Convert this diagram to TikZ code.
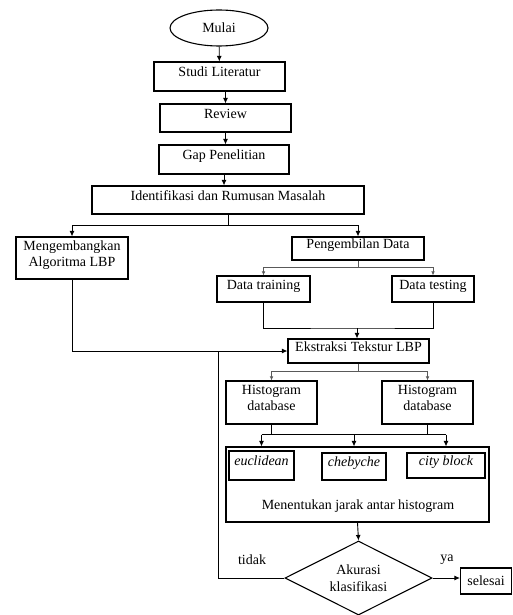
\documentclass[tikz,border=0pt]{standalone}
\usepackage{fontspec}
\setmainfont{Liberation Serif}
\usetikzlibrary{positioning, shapes.geometric, arrows.meta, calc}

\tikzset{
    box/.style={draw, line width=1.1pt, inner sep=0pt, align=center},
    rbox/.style={box, text depth=9pt},
    arr/.style={line width=0.9pt, -{Latex[length=5.5pt,width=5pt]}},
    ln/.style={line width=0.9pt},
    thin arr/.style={line width=0.7pt, gray!70!black, -{Latex[length=4pt,width=3.5pt]}},
    thin ln/.style={line width=0.7pt, gray!70!black},
}

\begin{document}
\begin{tikzpicture}[x=1pt, y=-1pt, font=\fontsize{14}{16.5}\selectfont]
    \useasboundingbox (0,0) rectangle (512,615);

    % main column
    \node[box, ellipse, minimum width=98, minimum height=36] (mulai) at (219,28) {Mulai};
    \node[rbox, minimum width=131, minimum height=29] (studi) at (219.5,76.5) {Studi Literatur};
    \node[rbox, minimum width=131, minimum height=28] (review) at (225.5,118) {Review};
    \node[rbox, minimum width=130, minimum height=29] (gap) at (224,159.5) {Gap Penelitian};
    \node[rbox, minimum width=272, minimum height=28] (ident) at (228,200) {Identifikasi dan Rumusan Masalah};

    % two branches
    \node[rbox, minimum width=112, minimum height=42] (kembang) at (72,258) {Mengembangkan\\Algoritma LBP};
    \node[rbox, minimum width=132, minimum height=23] (ambil) at (358,248.5) {Pengembilan Data};
    \node[rbox, minimum width=93, minimum height=26] (train) at (263.5,289) {Data training};
    \node[rbox, minimum width=82, minimum height=26] (test) at (433,289) {Data testing};
    \node[rbox, minimum width=141, minimum height=24] (ekstr) at (358.5,351) {Ekstraksi Tekstur LBP};

    % histograms and distances
    \node[rbox, minimum width=91, minimum height=43] (histA) at (271.5,402.5) {Histogram\\database};
    \node[rbox, minimum width=91, minimum height=43] (histB) at (427.5,402.5) {Histogram\\database};
    \node[box, minimum width=263, minimum height=75] (jarak) at (357.5,484.5) {};
    \node[rbox, minimum width=65, minimum height=29] (eucl) at (261.5,465.5) {\itshape euclidean};
    \node[rbox, minimum width=64, minimum height=27] (cheb) at (354,466.5) {\itshape chebyche};
    \node[rbox, minimum width=78, minimum height=25] (city) at (446,465.5) {\itshape city block};
    \node (jaraklbl) at (358,506) {Menentukan jarak antar histogram};

    % decision
    \node[box, diamond, aspect=2, minimum width=147, minimum height=74] (akurasi) at (358.5,578) {Akurasi\\klasifikasi};
    \node[box, minimum width=51, minimum height=26] (selesai) at (486,581) {selesai};
    \node (ya) at (447,560) {ya};
    \node (tidak) at (252,560) {tidak};

    % connectors
    \draw[arr] (mulai) -- (studi);
    \draw[arr] (review.north |- studi.south) -- (review.north);
    \draw[arr] (review.south) -- (review.south |- gap.north);
    \draw[arr] (gap.south) -- (gap.south |- ident.north);

    \draw[ln] (ident.south) -- ++(0,11) coordinate (b1);
    \draw[arr] (b1) -| (kembang.north);
    \draw[arr] (b1) -| (ambil.north);

    \draw[thin ln] (ambil.south) -- ++(0,7) coordinate (b2);
    \draw[thin arr] (b2) -| (train.north);
    \draw[thin arr] (b2) -| (test.north);

    \coordinate (m1) at (357,328);
    \draw[ln] (train.south) |- (m1) -| (test.south);
    \draw[arr] (m1) -- (m1 |- ekstr.north);
    \draw[arr] (kembang.south) |- (ekstr.west);

    \draw[thin ln] (ekstr.south) -- ++(0,8) coordinate (b3);
    \draw[thin arr] (b3) -| (histA.north);
    \draw[thin arr] (b3) -| (histB.north);

    \draw[ln] (histA.south) -- ++(0,10) coordinate (h1);
    \draw[ln] (histB.south) -- ++(0,10) coordinate (h2);
    \draw[ln] (eucl |- h1) -- (city |- h1);
    \draw[arr] (eucl |- h1) -- (eucl |- jarak.north);
    \draw[arr] (cheb |- h1) -- (cheb |- jarak.north);
    \draw[arr] (city |- h1) -- (city |- jarak.north);

    \draw[arr] (jarak.south) -- (akurasi.north);
    \draw[arr] (akurasi.east) -- (akurasi.east -| selesai.west);
    \coordinate (lp) at (218,352);
    \draw[ln] (akurasi.west) -| (lp);
\end{tikzpicture}
\end{document}
